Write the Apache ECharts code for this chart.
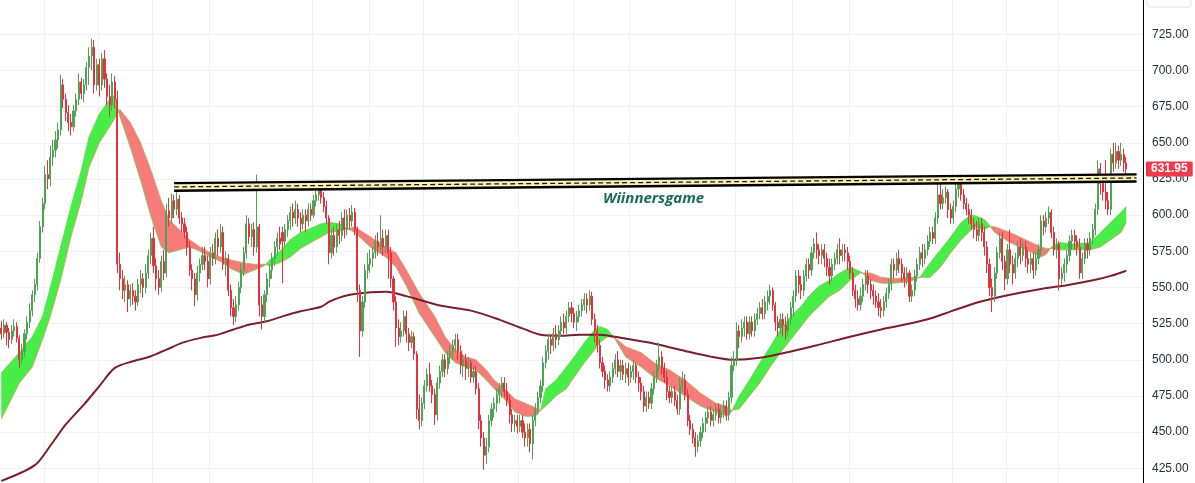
<!DOCTYPE html>
<html><head><meta charset="utf-8">
<script src="https://cdn.jsdelivr.net/npm/echarts@6.0.0/dist/echarts.min.js"></script>
<style>html,body{margin:0;padding:0;background:#fff;}#c{width:1195px;height:483px;}</style>
</head><body><div id="c"></div>
<script>
// candle data: [open, close, low, high]
const candles = [
[522,518,514,527],[518,524,515,528],[524,519,510,526],[519,514,508,522],[514,520,511,524],[520,523,516,528],[523,515,512,526],[515,500,494,517],[500,506,497,511],[506,518,502,521],
[518,526,514,530],[526,534,522,539],[534,545,530,548],[545,552,540,556],[552,570,548,574],[570,592,567,596],[592,608,588,612],[608,628,604,634],[628,625,618,638],[625,640,620,648],
[640,645,634,652],[645,652,640,658],[652,659,646,664],[659,690,655,697],[690,680,674,694],[680,671,665,684],[671,664,658,676],[664,661,655,670],[661,672,658,676],[672,680,668,684],
[680,692,676,698],[692,684,680,695],[684,690,678,694],[690,702,686,706],[702,710,690,716],[710,716,700,722],[716,690,684,721],[690,704,686,708],[704,690,682,708],[690,708,686,712],
[708,694,688,714],[694,682,676,698],[682,676,668,690],[676,692,672,698],[692,680,674,696],[680,566,560,686],[566,556,548,574],[556,548,542,562],[548,552,540,558],[552,542,533,555],
[542,548,537,552],[548,544,538,553],[544,540,534,548],[540,552,537,556],[552,556,546,562],[556,550,543,560],[550,560,546,566],[560,572,556,576],[572,584,566,588],[584,565,560,592],
[565,556,548,570],[556,550,545,562],[550,568,547,572],[568,560,555,576],[560,603,557,608],[603,598,592,612],[598,610,594,615],[610,604,598,614],[604,611,600,616],[611,598,594,614],
[598,594,588,602],[594,588,584,598],[588,578,572,592],[578,562,558,582],[562,556,548,566],[556,545,537,560],[545,560,541,565],[560,566,554,570],[566,572,562,578],[572,568,562,578],
[568,556,550,572],[556,574,552,578],[574,570,565,580],[570,584,566,588],[584,578,572,590],[578,588,574,594],[588,566,562,592],[566,570,558,575],[570,548,544,573],[548,536,530,552],
[536,530,524,542],[530,538,526,544],[538,550,534,554],[550,562,546,566],[562,574,558,578],[574,594,570,600],[594,585,580,598],[585,590,578,594],[590,578,572,595],[578,592,574,628],
[592,538,530,594],[538,530,521,544],[530,545,526,548],[545,556,540,560],[556,562,550,566],[562,570,556,574],[570,578,565,582],[578,584,572,588],[584,580,576,592],[588,582,553,592],
[582,590,578,594],[590,596,585,600],[596,602,590,606],[602,598,592,608],[598,604,594,610],[604,598,592,608],[598,594,588,602],[594,600,590,604],[600,596,588,604],[596,604,592,608],
[604,600,596,608],[600,610,598,614],[610,614,606,618],[614,620,610,624],[620,612,608,622],[612,606,602,616],[606,598,594,610],[598,574,566,600],[574,586,570,590],[586,578,572,592],
[578,590,574,594],[590,586,580,596],[586,598,582,602],[598,590,584,604],[590,600,586,604],[600,596,590,605],[596,602,592,607],[602,590,586,605],[590,548,540,592],[548,520,502,552],
[520,540,516,544],[540,562,536,566],[562,566,556,574],[566,570,560,576],[570,574,564,578],[574,582,570,586],[582,578,572,588],[578,584,574,600],[584,578,572,590],[578,586,574,590],
[586,574,556,590],[574,556,550,578],[556,540,534,558],[540,522,509,544],[522,516,510,528],[516,520,512,526],[520,530,516,534],[530,518,512,534],[518,512,506,522],[512,516,508,520],
[516,504,500,519],[504,466,459,506],[466,458,452,476],[458,470,454,474],[470,482,466,486],[482,490,478,494],[490,482,478,498],[482,476,470,486],[476,462,455,480],[462,484,458,488],
[484,492,480,496],[492,500,488,504],[500,494,488,504],[494,502,490,506],[502,506,497,510],[506,510,500,514],[510,514,505,518],[514,506,500,518],[506,496,490,510],[496,500,488,504],
[500,494,486,504],[494,498,488,502],[498,488,484,500],[488,492,484,496],[492,480,476,496],[480,458,452,484],[458,446,440,462],[446,434,424,450],[434,440,428,446],[440,458,436,462],
[458,466,454,470],[466,470,460,474],[470,476,464,480],[476,480,470,484],[480,484,474,488],[484,478,474,488],[478,472,468,484],[472,462,456,476],[462,456,450,466],[456,458,450,462],
[458,454,449,462],[454,458,450,462],[458,450,446,462],[450,446,440,456],[446,452,440,456],[452,442,436,456],[442,458,431,462],[458,466,454,470],[466,474,462,478],[474,482,470,486],
[482,498,478,502],[498,506,494,510],[506,514,500,518],[514,510,504,518],[510,518,506,522],[518,514,508,524],[514,520,510,524],[520,526,516,530],[526,522,518,532],[522,530,518,534],
[530,536,526,540],[536,532,526,540],[532,526,522,536],[526,530,520,534],[530,534,526,538],[534,538,530,542],[538,542,534,546],[542,538,532,546],[538,544,534,548],[544,528,524,547],
[528,520,512,532],[520,510,505,524],[510,498,494,514],[498,492,488,502],[492,486,480,496],[486,482,478,490],[482,488,478,492],[488,494,484,498],[494,500,490,504],[500,492,488,506],
[492,496,486,500],[496,490,486,500],[490,494,484,498],[494,488,482,498],[488,492,484,496],[492,496,486,500],[496,488,484,498],[488,484,478,492],[484,478,472,488],[478,468,464,482],
[468,474,464,478],[474,470,466,478],[470,480,466,484],[480,488,476,492],[488,496,484,500],[496,502,492,512],[502,494,490,506],[494,488,484,498],[488,478,472,492],[478,474,470,482],
[474,478,470,482],[478,472,468,482],[472,466,462,476],[466,482,462,488],[482,486,478,492],[486,476,472,490],[476,458,454,480],[458,452,448,462],[452,446,442,456],[446,440,433,450],
[440,444,436,448],[444,450,440,454],[450,456,446,460],[456,460,450,464],[460,464,456,468],[464,458,454,468],[458,462,454,466],[462,466,458,470],[466,460,456,470],[460,464,456,468],
[464,468,460,472],[468,462,458,472],[462,474,458,478],[474,496,470,502],[496,500,492,506],[500,520,496,526],[520,516,508,524],[516,522,512,528],[522,526,516,530],[526,518,514,530],
[518,526,514,530],[526,520,516,530],[520,528,516,532],[528,532,524,536],[532,536,528,540],[536,532,528,542],[532,540,528,544],[540,544,534,548],[544,548,538,552],[548,538,534,550],
[538,526,520,540],[526,522,516,530],[522,528,518,532],[528,524,516,532],[524,520,514,530],[520,528,516,532],[528,536,524,540],[536,544,530,548],[544,558,540,562],[558,552,546,562],
[552,548,542,558],[548,558,544,562],[558,566,554,570],[566,562,556,570],[562,574,558,578],[574,580,570,584],[580,576,570,588],[576,572,566,580],[572,576,566,580],[576,570,564,580],
[570,564,558,574],[564,558,552,570],[558,566,554,570],[566,570,562,574],[570,576,566,580],[576,572,566,584],[572,576,568,580],[576,574,568,580],[574,568,562,578],[568,560,556,572],
[560,548,544,564],[548,542,536,552],[542,538,534,548],[538,544,534,550],[544,552,540,556],[552,558,548,562],[558,552,546,562],[552,548,542,556],[548,544,538,552],[544,540,536,548],
[540,536,530,546],[536,534,529,542],[534,540,530,544],[540,546,536,550],[546,552,542,556],[552,566,548,570],[566,562,556,570],[562,570,558,574],[570,566,560,576],[566,560,554,570],
[560,556,550,564],[556,560,552,564],[560,544,540,562],[544,548,540,552],[548,558,544,562],[558,566,554,570],[566,574,562,578],[574,570,564,580],[570,576,566,580],[576,582,572,586],
[582,588,578,592],[588,584,580,592],[584,598,580,602],[598,614,594,624],[614,608,604,622],[608,612,604,618],[612,616,608,620],[616,604,598,618],[604,598,594,608],[598,606,594,610],
[606,618,602,622],[618,622,612,626],[622,614,610,628],[614,608,604,618],[608,604,600,612],[604,600,594,608],[600,594,590,604],[594,590,584,598],[590,586,582,596],[586,594,582,598],
[594,588,582,598],[588,578,572,592],[578,566,560,582],[566,550,544,570],[550,544,533,556],[544,560,540,564],[560,574,556,578],[574,584,570,588],[584,568,562,588],[568,556,548,572],
[556,576,552,580],[576,566,560,590],[566,560,552,572],[560,570,556,574],[570,578,564,582],[578,572,566,584],[572,578,568,582],[578,570,564,582],[570,566,560,576],[566,570,560,574],
[570,562,556,574],[562,570,558,574],[570,576,566,580],[576,596,572,600],[596,592,586,600],[592,598,588,602],[598,602,594,606],[602,588,584,604],[588,576,572,592],[576,580,570,584],
[580,556,548,582],[556,560,552,564],[560,566,554,570],[566,572,560,576],[572,582,568,586],[582,586,576,590],[586,582,576,590],[582,578,572,586],[578,560,556,584],[560,570,556,574],
[570,580,566,584],[580,576,570,584],[576,584,572,588],[584,590,580,594],[590,604,586,608],[604,632,600,638],[632,622,614,636],[622,616,610,628],[616,610,604,638],[610,604,600,616],
[604,642,600,646],[642,636,630,650],[636,644,632,650],[644,638,632,648],[638,642,634,650],[642,636,630,646],[636,631.95,628,640]
];
const RIGHT_PAD = 6;
const categories = Array.from({length: candles.length + RIGHT_PAD}, (_, i) => 'D' + i);

// EMA ribbon (fast / slow) sampled at candle indices
const ribbonIdx = [0,7,12,16,19,23,27,31,34,38,42,44,46,50,54,58,62,65,69,73,77,81,85,89,94,98,102,104,108,112,116,120,124,127,131,134,137,143,149,153,157,162,168,172,176,180,184,188,191,195,199,203,207,209,211,215,219,222,226,230,232,235,238,242,248,253,259,265,271,277,281,283,286,290,294,298,302,306,310,313,317,321,325,329,333,337,341,346,352,356,360,364,368,372,375,377,381,383,385,391,397,403,405,407,410,416,422,426,430,434,436];
const ribbonFast = [491,505,516,530,550,578,606,631,654,670,680,683,668,647,624,599,578,574,576,578,575,571,568,563,559,562,565,569,575,583,588,591,594,595,594,591,588,578,571,564,551,532,516,505,498,495,493,486,480,473,464,461,461,465,480,486,495,502,512,521,523,521,514,502,495,488,482,475,468,464,461,464,475,486,498,509,521,530,537,544,551,555,560,564,561,555,553,553,554,557,567,576,585,595,599,600,597,593,588,581,576,571,573,578,581,580,581,588,595,602,606];
const ribbonSlow = [459,484,495,514,530,555,585,610,633,650,661,667,673,664,650,631,610,597,590,583,578,574,571,569,567,566,566,565,567,571,577,581,585,588,589,590,592,585,578,574,562,546,530,516,507,502,500,493,486,480,473,470,467,465,468,475,480,488,498,507,512,516,515,509,505,498,493,486,477,470,468,465,466,475,484,495,505,514,523,530,537,544,548,555,560,560,557,556,557,557,557,564,574,583,588,592,590,592,592,588,583,578,577,577,576,576,576,578,583,588,595];

// 200 MA
const maIdx = [0,13,19,25,32,38,44,51,58,64,70,77,84,90,96,103,109,116,124,127,131,137,149,157,170,182,193,203,209,217,224,232,240,251,263,275,284,294,306,317,329,341,348,359,368,379,391,403,414,424,430,436];
const maVal = [416.3,427.2,440.6,455.3,469,481.8,494.4,499,502.5,507,511.7,515,517.4,521,524.3,526.6,530,533.5,536.7,540,543,545.5,547,544,537.5,534,527.8,521,517.4,516.7,517.4,517.4,515.3,511.9,507,502.2,500,501.4,505.7,510.5,516,521,523.5,528,533.5,540,545,549,551.9,555.3,558,561.6];

// Horizontal channel drawing
const channelIdx = [67, 440];
const channelTop = [622.1, 628.2];
const channelBottom = [616.9, 623.2];

// month grid lines (category boundaries)
const gridLineIdx = [17,38,59,81,121,143,164,201,222,244,285,307,329,369,390,410];

const lastPrice = 631.95;
const watermark = 'Wiinnersgame';

const UP = '#4fa453', DOWN = '#e6323e';
const RIB_UP = 'rgba(45,236,45,0.88)', RIB_DN = 'rgba(246,100,100,0.85)';

function renderRibbon(params, api) {
  if (params.dataIndex !== 0) return null;
  const children = [];
  const P = (x, v) => api.coord([x, v]);
  let top = [], bot = [], sign = null;
  const flush = () => {
    if (top.length > 1) children.push({type:'polygon', shape:{points: top.concat(bot.slice().reverse())}, style:{fill: sign > 0 ? RIB_UP : RIB_DN}});
  };
  for (let k = 0; k < ribbonIdx.length; k++) {
    const d = ribbonFast[k] - ribbonSlow[k];
    const s = d >= 0 ? 1 : -1;
    if (sign === null) sign = s;
    const pf = P(ribbonIdx[k], ribbonFast[k]);
    const ps = P(ribbonIdx[k], ribbonSlow[k]);
    if (s !== sign) {
      const k0 = k - 1;
      const d0 = ribbonFast[k0] - ribbonSlow[k0];
      const t = d0 / (d0 - d);
      const a = P(ribbonIdx[k0], ribbonFast[k0]);
      const pc = [a[0] + t * (pf[0] - a[0]), a[1] + t * (pf[1] - a[1])];
      top.push(pc); bot.push(pc);
      flush();
      top = [pc]; bot = [pc]; sign = s;
    }
    top.push(pf); bot.push(ps);
  }
  flush();
  return {type:'group', children};
}

function renderChannel(params, api) {
  if (params.dataIndex !== 0) return null;
  const a = api.coord([channelIdx[0], channelTop[0]]);
  const b = api.coord([channelIdx[1], channelTop[1]]);
  const c = api.coord([channelIdx[1], channelBottom[1]]);
  const d = api.coord([channelIdx[0], channelBottom[0]]);
  const m0 = [(a[0]+d[0])/2, (a[1]+d[1])/2], m1 = [(b[0]+c[0])/2, (b[1]+c[1])/2];
  return {type:'group', children:[
    {type:'polygon', shape:{points:[a,b,c,d]}, style:{fill:'#faf0b8'}},
    {type:'line', shape:{x1:a[0],y1:a[1],x2:b[0],y2:b[1]}, style:{stroke:'#000', lineWidth:2.4}},
    {type:'line', shape:{x1:d[0],y1:d[1],x2:c[0],y2:c[1]}, style:{stroke:'#000', lineWidth:2.4}},
    {type:'line', shape:{x1:m0[0],y1:m0[1],x2:m1[0],y2:m1[1]}, style:{stroke:'#1a1a1a', lineWidth:1.3, lineDash:[5,3]}}
  ]};
}

const chart = echarts.init(document.getElementById('c'), null, {renderer:'canvas'});
chart.setOption({
  animation: false,
  backgroundColor: '#ffffff',
  grid: {left: 0, right: 52, top: -1.9, bottom: -21.5, containLabel: false, outerBoundsMode: 'none'},
  xAxis: {
    type: 'category', data: categories, boundaryGap: true,
    axisLine: {show: false}, axisTick: {show: false}, axisLabel: {show: false},
    splitLine: {show: true, interval: (i) => gridLineIdx.indexOf(i) >= 0, lineStyle: {color: '#eef0f4', width: 1}}
  },
  yAxis: {
    type: 'value', position: 'right', min: 400, max: 750, interval: 25,
    axisLine: {show: true, lineStyle: {color: '#000', width: 1}},
    axisTick: {show: false},
    axisLabel: {showMinLabel: false, showMaxLabel: false, margin: 9, color: '#2a2e39', fontSize: 12, fontFamily: 'Liberation Sans, Arial, sans-serif', formatter: (v) => v.toFixed(2)},
    splitLine: {show: true, lineStyle: {color: '#f0f2f6', width: 1}}
  },
  series: [
    {type: 'custom', name: 'ribbon', renderItem: renderRibbon, z: 1, silent: true,
     data: ribbonIdx.map((x, k) => [x, ribbonFast[k], ribbonSlow[k]]), encode: {x: 0, y: [1, 2]}},
    {type: 'line', name: 'fast', z: 2, symbol: 'none', silent: true,
     data: ribbonIdx.map((x, k) => [x, ribbonFast[k]]), lineStyle: {color: 'rgba(120,205,100,0.9)', width: 1}},
    {type: 'line', name: 'slow', z: 2, symbol: 'none', silent: true,
     data: ribbonIdx.map((x, k) => [x, ribbonSlow[k]]), lineStyle: {color: 'rgba(214,160,100,0.9)', width: 1}},
    {type: 'line', name: 'MA200', z: 3, symbol: 'none', smooth: 0.3, silent: true,
     data: maIdx.map((x, k) => [x, maVal[k]]), lineStyle: {color: '#7a1f2b', width: 2}},
    {type: 'candlestick', name: 'price', z: 4, data: candles, barWidth: '62%',
     itemStyle: {color: UP, color0: DOWN, borderColor: UP, borderColor0: DOWN, borderWidth: 1},
     markLine: {symbol: 'none', silent: true, z: 10,
       data: [{yAxis: lastPrice}],
       lineStyle: {color: 'rgba(0,0,0,0)', width: 0},
       label: {position: 'end', distance: 3, formatter: () => lastPrice.toFixed(2), backgroundColor: '#ef3a4c', color: '#fff', fontWeight: 'bold', fontSize: 12, fontFamily: 'Liberation Sans, Arial, sans-serif', padding: [2, 5, 1, 5], borderRadius: 1}
     }},
    {type: 'custom', name: 'channel', renderItem: renderChannel, z: 6, silent: true,
     data: channelIdx.map((x, k) => [x, channelTop[k], channelBottom[k]]), encode: {x: 0, y: [1, 2]}}
  ],
  graphic: [
    {type: 'text', x: 603, y: 199, z: 20, style: {text: watermark, font: 'italic bold 15px "Open Sans", sans-serif', fill: '#1a6b5b', verticalAlign: 'middle', align: 'left'}},
    {type: 'rect', z: 20, shape: {x: 1147, y: -6, width: 44, height: 13, r: 3}, style: {fill: '#fff', stroke: '#dfe2e8', lineWidth: 1}}
  ]
});
</script>
</body></html>
